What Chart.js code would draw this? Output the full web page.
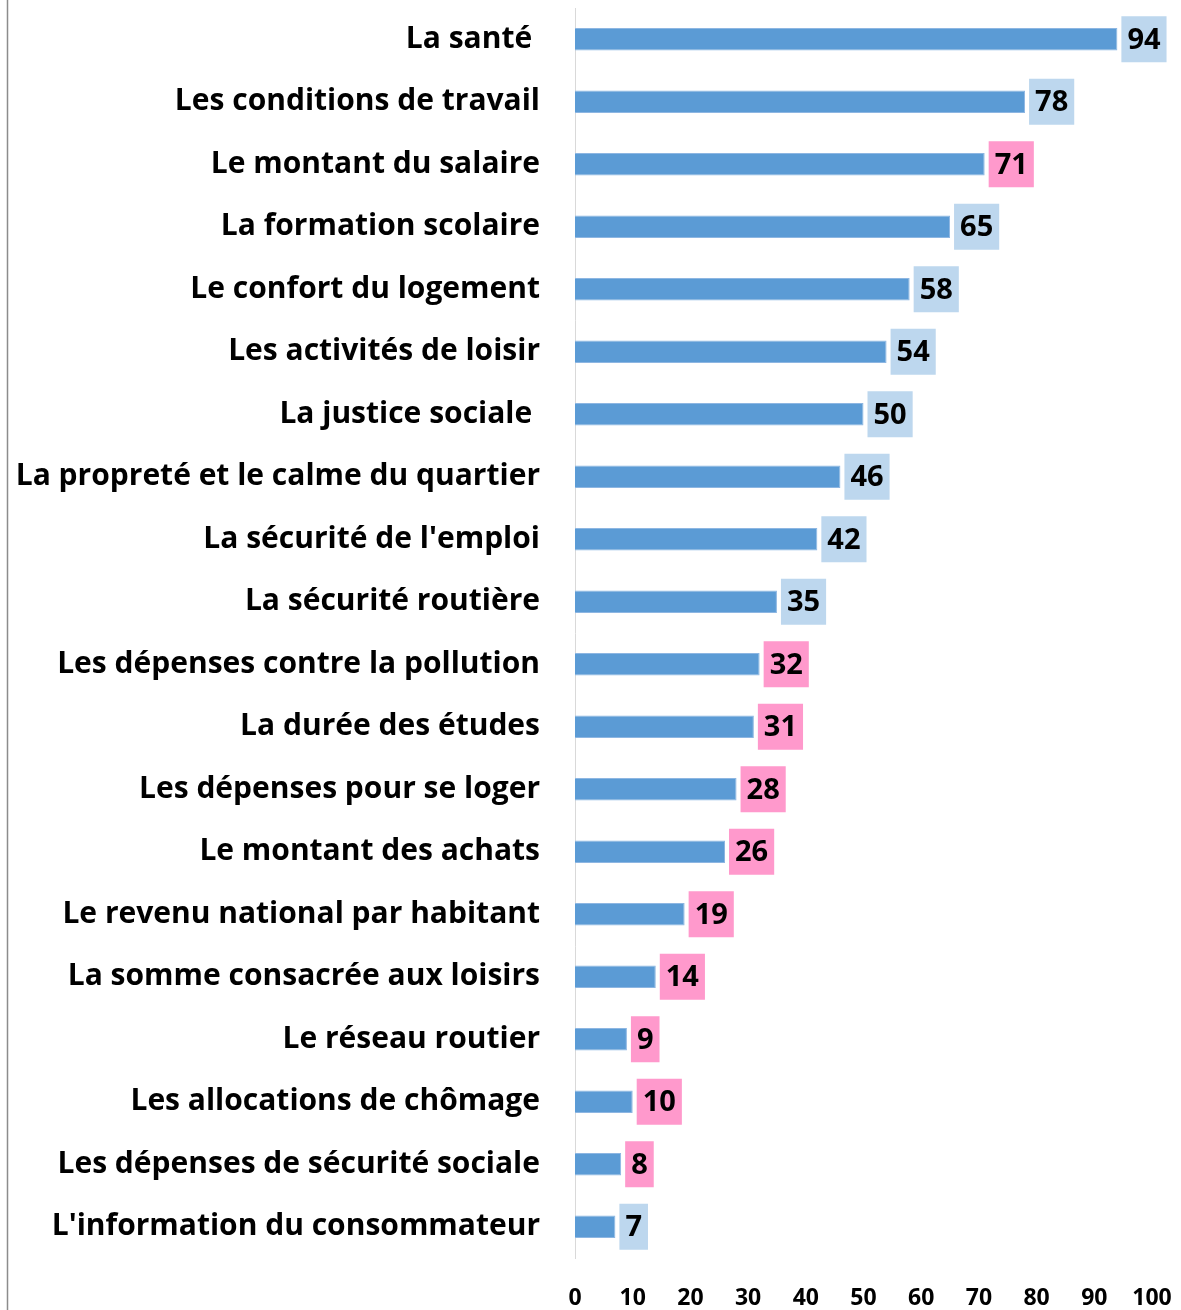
<!DOCTYPE html>
<html lang="fr">
<head>
<meta charset="utf-8">
<title>Préoccupations</title>
<script src="https://cdn.jsdelivr.net/npm/chart.js@4.4.0/dist/chart.umd.min.js"></script>
<style>
  html, body { margin: 0; padding: 0; background: #fff; }
  #wrap { position: relative; width: 1181px; height: 1310px; }
</style>
</head>
<body>
<div id="wrap"><canvas id="chart" width="1181" height="1310"></canvas></div>
<script>
// categories, from top to bottom
const categories = [
    'La santé ',
    'Les conditions de travail',
    'Le montant du salaire',
    'La formation scolaire',
    'Le confort du logement',
    'Les activités de loisir',
    'La justice sociale ',
    'La propreté et le calme du quartier',
    "La sécurité de l'emploi",
    'La sécurité routière',
    'Les dépenses contre la pollution',
    'La durée des études',
    'Les dépenses pour se loger',
    'Le montant des achats',
    'Le revenu national par habitant',
    'La somme consacrée aux loisirs',
    'Le réseau routier',
    'Les allocations de chômage',
    'Les dépenses de sécurité sociale',
    "L'information du consommateur"
];
const values = [94, 78, 71, 65, 58, 54, 50, 46, 42, 35, 32, 31, 28, 26, 19, 14, 9, 10, 8, 7];
// which group each value label belongs to
const labelGroup = ['bleu', 'bleu', 'rose', 'bleu', 'bleu', 'bleu', 'bleu', 'bleu', 'bleu', 'bleu',
                    'rose', 'rose', 'rose', 'rose', 'rose', 'rose', 'rose', 'rose', 'rose', 'bleu'];
const xTicks = [0, 10, 20, 30, 40, 50, 60, 70, 80, 90, 100];

const FONT = '"Open Sans", sans-serif';
const groupColors = { bleu: '#BDD7EE', rose: '#FF99CC' };

// left frame line of the original picture
const frameLine = {
    id: 'frameLine',
    beforeDraw(chart) {
        const ctx = chart.ctx;
        ctx.save();
        ctx.strokeStyle = '#8c8c8c';
        ctx.lineWidth = 1.5;
        ctx.beginPath();
        ctx.moveTo(7.5, 0);
        ctx.lineTo(7.5, chart.height);
        ctx.stroke();
        ctx.restore();
    }
};

// value boxes drawn just after each bar end
const valueBoxes = {
    id: 'valueBoxes',
    afterDatasetsDraw(chart) {
        const ctx = chart.ctx;
        const meta = chart.getDatasetMeta(0);
        ctx.save();
        ctx.font = 'bold 29px ' + FONT;
        ctx.textAlign = 'center';
        ctx.textBaseline = 'middle';
        meta.data.forEach((bar, i) => {
            const text = String(values[i]);
            const w = ctx.measureText(text).width + 12;
            const h = 46;
            const x = bar.x + 4;
            ctx.fillStyle = groupColors[labelGroup[i]];
            ctx.fillRect(x, bar.y - h / 2, w, h);
            ctx.fillStyle = '#000';
            ctx.fillText(text, x + w / 2, bar.y + 1);
        });
        ctx.restore();
    }
};

new Chart(document.getElementById('chart').getContext('2d'), {
    type: 'bar',
    data: {
        labels: categories,
        datasets: [{
            data: values,
            backgroundColor: '#5B9BD5',
            borderColor: '#8DB6E2',
            borderWidth: 1,
            barPercentage: 0.36,
            categoryPercentage: 1
        }]
    },
    options: {
        indexAxis: 'y',
        responsive: false,
        animation: false,
        layout: { padding: { top: 8, right: 29, left: 0, bottom: 0 } },
        plugins: {
            legend: { display: false },
            tooltip: { enabled: false }
        },
        scales: {
            x: {
                min: 0,
                max: 100,
                afterBuildTicks: (scale) => { scale.ticks = xTicks.map(v => ({ value: v })); },
                grid: { display: false, drawTicks: false },
                border: { display: false },
                ticks: {
                    color: '#000',
                    padding: 27,
                    maxRotation: 0,
                    font: { family: FONT, size: 23, weight: 'bold' }
                },
                afterFit: (scale) => {
                    scale.height = 52;
                    scale.paddingLeft = 0;
                    scale.paddingRight = 0;
                }
            },
            y: {
                grid: { display: false, drawTicks: false },
                border: { display: true, color: '#d9d9d9', width: 1 },
                ticks: {
                    color: '#000',
                    padding: 35,
                    autoSkip: false,
                    font: { family: FONT, size: 30, weight: 'bold' }
                },
                afterFit: (scale) => {
                    scale.width = 575;
                    scale.paddingTop = 0;
                    scale.paddingBottom = 0;
                }
            }
        }
    },
    plugins: [frameLine, valueBoxes]
});
</script>
</body>
</html>
